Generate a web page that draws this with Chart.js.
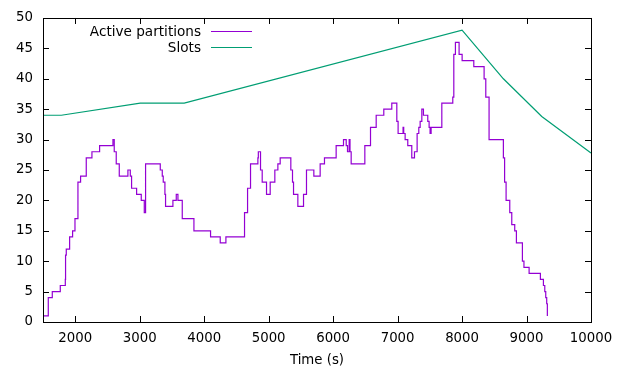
<!DOCTYPE html>
<html>
<head>
<meta charset="utf-8">
<script src="https://cdn.jsdelivr.net/npm/chart.js@4"></script>
<style>
  body { margin: 0; background: #fff; }
</style>
</head>
<body>
<canvas id="chart" width="625" height="369"></canvas>
<script>
// active partitions: (time, value) change points, drawn as steps
var partitionTimes = [1500, 1582, 1644, 1768, 1846, 1850, 1861, 1913, 1959, 1996, 2042, 2083, 2171, 2259, 2378,
    2585, 2605, 2636, 2683, 2817, 2854, 2874, 2952, 3024, 3071, 3091, 3319, 3350, 3365, 3391, 3401, 3515, 3567,
    3593, 3660, 3841, 4099, 4249, 4337, 4626, 4673, 4719, 4833, 4840, 4874, 4900, 4967, 5024, 5096, 5143, 5179,
    5344, 5370, 5386, 5453, 5541, 5587, 5701, 5799, 5866, 6047, 6161, 6203, 6223, 6249, 6262, 6280, 6492, 6580,
    6668, 6786, 6910, 6988, 7008, 7085, 7095, 7117, 7158, 7220, 7262, 7303, 7329, 7350, 7376, 7401, 7468, 7489,
    7504, 7520, 7686, 7856, 7872, 7897, 7954, 8001, 8182, 8342, 8368, 8419, 8641, 8660, 8683, 8740, 8771, 8817,
    8843, 8936, 8960, 9040, 9215, 9262, 9283, 9298, 9313, 9323];
var partitionValues = [1, 4, 5, 6, 7, 11, 12, 14, 15, 17, 23, 24, 27, 28, 29,
    30, 28, 26, 24, 25, 24, 22, 21, 20, 18, 26, 25, 24, 23, 21, 19, 20, 21,
    20, 17, 15, 14, 13, 14, 18, 22, 26, 27, 28, 25, 23, 21, 23, 25, 26, 27,
    25, 23, 21, 19, 21, 25, 24, 26, 27, 29, 30, 29, 28, 30, 28, 26, 29, 32,
    34, 35, 36, 33, 31, 32, 31, 30, 29, 27, 28, 31, 32, 33, 35, 34, 33, 32,
    31, 32, 36, 37, 44, 46, 44, 43, 42, 40, 37, 30, 27, 23, 20, 18, 16, 15,
    13, 10, 9, 8, 7, 6, 5, 4, 3, 1];

// slots
var slotTimes = [1500, 1784, 3008, 3690, 8000, 8641, 9236, 10000];
var slotValues = [34, 34, 36, 36, 48, 40, 33.8, 27.8];

var xTicks = [2000, 3000, 4000, 5000, 6000, 7000, 8000, 9000, 10000];
var yTicks = [0, 5, 10, 15, 20, 25, 30, 35, 40, 45, 50];

var FONT = 13.3;
Chart.defaults.font.family = 'DejaVu Sans';
Chart.defaults.font.size = FONT;
Chart.defaults.color = '#000';

function toPoints(xs, ys) {
    return xs.map(function (x, i) { return {x: x, y: ys[i]}; });
}

/* рамка и засечки внутрь, как в gnuplot */
var framePlugin = {
    id: 'frame',
    afterDatasetsDraw: function (chart) {
        var ctx = chart.ctx, a = chart.chartArea;
        var xs = chart.scales.x, ys = chart.scales.y;
        var len = 6;
        ctx.save();
        ctx.strokeStyle = '#000';
        ctx.lineWidth = 1;
        ctx.beginPath();
        xTicks.forEach(function (v) {
            var px = Math.round(xs.getPixelForValue(v)) + 0.5;
            ctx.moveTo(px, a.bottom); ctx.lineTo(px, a.bottom - len);
            ctx.moveTo(px, a.top); ctx.lineTo(px, a.top + len);
        });
        yTicks.forEach(function (v) {
            var py = Math.round(ys.getPixelForValue(v)) + 0.5;
            ctx.moveTo(a.left, py); ctx.lineTo(a.left + len, py);
            ctx.moveTo(a.right, py); ctx.lineTo(a.right - len, py);
        });
        ctx.stroke();
        ctx.strokeRect(Math.round(a.left) + 0.5, Math.round(a.top) + 0.5,
            Math.round(a.right - a.left), Math.round(a.bottom - a.top));
        ctx.restore();
    }
};

/* легенда: текст справа выровнен, образец линии после него */
var keyPlugin = {
    id: 'key',
    afterDraw: function (chart) {
        var ctx = chart.ctx;
        ctx.save();
        ctx.font = '13.6px "DejaVu Sans"';
        ctx.textAlign = 'right';
        ctx.textBaseline = 'middle';
        chart.data.datasets.forEach(function (ds, i) {
            var y = 31 + i * 16;
            ctx.fillStyle = '#000';
            ctx.fillText(ds.label, 201, y + 1);
            ctx.strokeStyle = ds.borderColor;
            ctx.lineWidth = 1.2;
            ctx.beginPath();
            ctx.moveTo(211, y + 0.5);
            ctx.lineTo(252, y + 0.5);
            ctx.stroke();
        });
        ctx.restore();
    }
};

var ctx = document.getElementById('chart').getContext('2d');
var chart = new Chart(ctx, {
    type: 'line',
    data: {
        datasets: [{
            label: 'Active partitions',
            data: toPoints(partitionTimes, partitionValues),
            borderColor: '#9400d3',
            borderWidth: 1.2,
            stepped: 'before',
            pointRadius: 0,
            fill: false
        }, {
            label: 'Slots',
            data: toPoints(slotTimes, slotValues),
            borderColor: '#009e73',
            borderWidth: 1.2,
            pointRadius: 0,
            tension: 0,
            fill: false
        }]
    },
    options: {
        responsive: false,
        animation: false,
        layout: {
            padding: {top: 17, right: 34, bottom: 0, left: 0}
        },
        plugins: {
            legend: {display: false},
            tooltip: {enabled: false}
        },
        scales: {
            x: {
                type: 'linear',
                min: 1500,
                max: 10000,
                grid: {display: false, drawTicks: false},
                border: {display: false},
                afterBuildTicks: function (s) {
                    s.ticks = xTicks.map(function (v) { return {value: v}; });
                },
                afterFit: function (s) { s.height = 47; },
                ticks: {
                    padding: 9, maxRotation: 0, autoSkip: false,
                    callback: function (v) { return String(v); }
                },
                title: {
                    display: true,
                    text: 'Time (s)',
                    padding: {top: 0, bottom: 0}
                }
            },
            y: {
                min: 0,
                max: 50,
                grid: {display: false, drawTicks: false},
                border: {display: false},
                afterBuildTicks: function (s) {
                    s.ticks = yTicks.map(function (v) { return {value: v}; });
                },
                afterFit: function (s) { s.width = 43; },
                ticks: {
                    padding: 10,
                    callback: function (v) { return String(v); }
                }
            }
        }
    },
    plugins: [framePlugin, keyPlugin]
});
</script>
</body>
</html>
